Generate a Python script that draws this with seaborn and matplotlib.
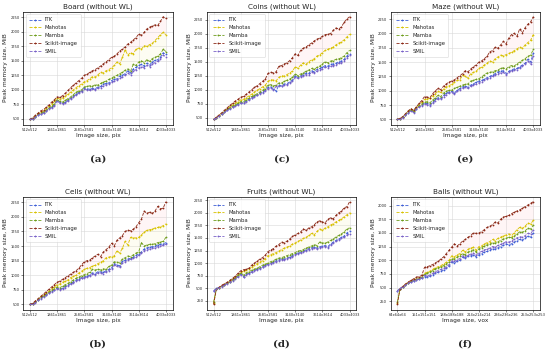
import numpy as np
import pandas as pd
import seaborn as sns
import matplotlib
matplotlib.use('Agg')
import matplotlib.pyplot as plt

libs = ['ITK', 'Mahotas', 'Mamba', 'Scikit-image', 'SMIL']
colors = {'ITK': '#3f5fd6', 'Mahotas': '#d8c200', 'Mamba': '#6f9d1e',
          'Scikit-image': '#8c2a18', 'SMIL': '#7a62c8'}

idx = list(range(51))
ticks_2d = ['512x512', '1861x1861', '2581x2581', '3140x3140', '3614x3614', '4033x4033']
ticks_3d = ['64x64x64', '151x151x151', '188x188x188', '214x214x214', '236x236x236', '253x253x253']

# ---- Board ----
board_itk = [490,500,530,570,590,610,640,680,700,740,
             820,790,770,790,830,860,890,930,960,980,
             1040,1020,1010,1030,1020,1050,1060,1100,1110,1120,
             1160,1180,1190,1240,1250,1280,1330,1290,1360,1390,
             1420,1440,1410,1460,1430,1480,1510,1520,1560,1640,
             1610]
board_mahotas = [490,510,550,590,620,640,680,720,760,800,
                 860,840,860,890,930,960,1000,1040,1070,1100,
                 1140,1160,1190,1230,1220,1260,1300,1290,1330,1350,
                 1380,1420,1480,1450,1560,1690,1600,1640,1620,1700,
                 1720,1700,1760,1750,1780,1800,1850,1900,1950,1990,
                 1950]
board_mamba = [490,505,540,580,600,620,650,690,720,760,
               830,800,790,820,850,880,920,960,980,1000,
               1050,1060,1070,1060,1090,1080,1110,1140,1150,1180,
               1200,1230,1250,1280,1300,1340,1360,1320,1440,1420,
               1480,1500,1470,1520,1490,1540,1560,1580,1620,1700,
               1660]
board_skimage = [490,520,560,600,640,660,700,740,790,830,
                 880,870,900,940,990,1040,1080,1120,1160,1200,
                 1250,1270,1300,1330,1350,1380,1410,1450,1480,1520,
                 1560,1580,1620,1670,1700,1740,1790,1820,1860,1900,
                 1960,1940,1990,2050,2080,2100,2120,2110,2180,2260,
                 2230]
board_smil = [490,500,525,560,585,600,630,670,690,730,
              810,770,760,780,810,850,880,910,940,970,
              1010,1000,990,1010,1000,1030,1040,1070,1090,1100,
              1130,1150,1170,1200,1220,1250,1290,1260,1320,1350,
              1380,1400,1380,1420,1400,1450,1470,1490,1530,1600,
              1570]

# ---- Coins ----
coins_itk = [470,495,535,570,600,640,670,700,720,740,
             770,770,800,830,860,880,910,940,960,990,
             1040,1050,1010,980,1080,1070,1100,1110,1140,1170,
             1250,1220,1250,1270,1300,1290,1340,1320,1360,1380,
             1400,1430,1420,1450,1460,1470,1500,1510,1540,1600,
             1640]
coins_mahotas = [470,505,545,580,620,660,700,730,760,790,
                 820,830,860,890,920,960,990,1020,1050,1080,
                 1150,1180,1170,1160,1220,1250,1240,1270,1300,1330,
                 1410,1380,1440,1480,1450,1500,1530,1550,1600,1620,
                 1660,1700,1720,1740,1760,1800,1830,1850,1890,1940,
                 1990]
coins_mamba = [470,500,540,575,610,650,680,710,730,760,
               790,790,820,850,880,900,930,960,990,1020,
               1080,1090,1070,1080,1120,1120,1150,1170,1190,1220,
               1280,1250,1280,1300,1330,1350,1380,1360,1400,1420,
               1460,1500,1480,1510,1520,1540,1550,1570,1600,1660,
               1700]
coins_skimage = [470,510,550,590,630,680,720,760,800,830,
                 870,880,920,960,1000,1040,1070,1110,1150,1190,
                 1290,1310,1300,1320,1420,1430,1460,1480,1520,1570,
                 1640,1610,1700,1740,1760,1800,1830,1870,1900,1920,
                 1950,1980,1990,2000,2060,2100,2080,2120,2200,2260,
                 2300]
coins_smil = [470,495,530,565,595,630,660,690,710,730,
              760,760,790,820,850,870,900,930,950,980,
              1020,1030,1000,1060,1060,1060,1080,1090,1120,1150,
              1220,1200,1230,1250,1270,1260,1310,1300,1330,1350,
              1370,1400,1390,1420,1430,1440,1470,1480,1510,1570,
              1610]

# ---- Maze ----
maze_itk = [500,505,535,580,620,660,630,690,730,750,
            790,780,760,800,850,880,870,920,960,980,
            990,960,1010,1040,1070,1080,1060,1100,1120,1150,
            1170,1180,1200,1230,1250,1270,1300,1330,1340,1350,
            1300,1340,1370,1380,1390,1420,1450,1480,1550,1500,
            1650]
maze_mahotas = [500,515,545,590,640,680,650,710,760,800,
                850,860,870,910,950,990,970,1030,1070,1090,
                1110,1150,1180,1190,1270,1250,1220,1300,1320,1340,
                1390,1410,1450,1480,1520,1500,1560,1590,1620,1610,
                1630,1650,1670,1700,1730,1760,1740,1800,1840,1880,
                1980]
maze_mamba = [500,510,540,585,630,670,640,700,740,770,
              800,810,790,840,880,920,900,960,990,1010,
              1010,1040,1060,1080,1100,1110,1120,1170,1180,1200,
              1210,1240,1280,1310,1320,1330,1350,1360,1390,1400,
              1380,1420,1440,1430,1470,1500,1530,1560,1600,1620,
              1720]
maze_skimage = [500,520,550,600,650,690,660,720,780,830,
                900,890,880,950,1000,1040,1020,1080,1120,1150,
                1170,1190,1230,1260,1300,1350,1330,1380,1420,1450,
                1500,1520,1560,1600,1680,1700,1760,1740,1800,1860,
                1820,1920,1980,2000,1950,2080,2010,2100,2160,2200,
                2290]
maze_smil = [500,505,530,575,615,650,620,680,720,740,
             770,760,740,790,820,860,850,900,930,960,
             970,940,990,1020,1040,1060,1040,1080,1100,1120,
             1140,1160,1180,1210,1230,1250,1280,1300,1310,1320,
             1280,1320,1350,1360,1370,1400,1430,1460,1520,1460,
             1600]

# ---- Cells ----
cells_itk = [500,505,535,575,610,640,670,700,730,750,
             780,760,780,810,830,860,890,920,940,960,
             970,990,1000,1040,1030,1060,1060,1050,1080,1100,
             1130,1200,1180,1160,1240,1260,1280,1290,1310,1340,
             1370,1400,1450,1470,1480,1490,1500,1520,1530,1540,
             1560]
cells_mahotas = [500,515,550,590,630,660,700,730,770,800,
                 840,850,880,900,920,960,980,1000,1040,1070,
                 1100,1120,1130,1160,1170,1200,1220,1250,1300,1310,
                 1320,1330,1420,1380,1460,1580,1520,1650,1640,1640,
                 1650,1690,1740,1770,1780,1790,1810,1820,1830,1850,
                 1880]
cells_mamba = [500,510,540,580,620,650,680,710,740,770,
               800,790,810,840,860,890,920,950,970,990,
               1010,1030,1050,1100,1090,1100,1090,1110,1100,1150,
               1170,1230,1220,1210,1280,1300,1330,1320,1350,1380,
               1400,1560,1500,1520,1530,1530,1540,1560,1570,1580,
               1650]
cells_skimage = [500,520,560,600,640,680,720,760,800,840,
                 880,900,930,960,990,1020,1050,1080,1120,1180,
                 1230,1250,1260,1300,1330,1360,1320,1400,1440,1480,
                 1550,1500,1600,1640,1680,1750,1770,1760,1790,1830,
                 1900,1960,2100,2060,2080,2060,2100,2180,2140,2150,
                 2260]
cells_smil = [500,505,530,570,600,630,660,690,720,740,
              770,750,770,790,820,850,870,900,920,950,
              960,970,990,1020,1010,1040,1040,1030,1060,1080,
              1110,1180,1150,1140,1210,1230,1260,1270,1290,1310,
              1340,1380,1420,1440,1450,1460,1470,1490,1500,1510,
              1530]

# ---- Fruits ----
fruits_itk = [450,500,515,540,570,600,630,660,700,740,
              780,730,780,800,830,860,880,900,930,960,
              980,1000,1020,1050,1070,1090,1080,1100,1120,1150,
              1180,1210,1220,1240,1270,1290,1310,1320,1300,1330,
              1340,1350,1330,1380,1420,1450,1480,1510,1540,1600,
              1640]
fruits_mahotas = [200,485,515,550,580,610,640,680,720,770,
                  820,840,860,890,920,960,990,1020,1050,1090,
                  1150,1170,1190,1210,1240,1270,1300,1320,1340,1380,
                  1400,1430,1460,1490,1510,1550,1590,1560,1630,1680,
                  1650,1700,1720,1760,1780,1820,1850,1880,1920,1960,
                  2000]
fruits_mamba = [230,480,510,545,575,600,630,670,710,760,
                800,760,810,830,860,880,900,930,960,980,
                1000,1030,1050,1080,1100,1110,1130,1150,1170,1190,
                1210,1240,1250,1270,1300,1320,1340,1370,1350,1420,
                1400,1400,1420,1450,1480,1520,1550,1580,1620,1680,
                1700]
fruits_skimage = [180,480,520,560,590,620,660,700,740,800,
                  850,870,880,900,960,1000,1040,1080,1110,1160,
                  1230,1260,1290,1340,1370,1420,1400,1440,1480,1530,
                  1560,1590,1620,1680,1650,1700,1720,1760,1820,1840,
                  1820,1800,1870,1900,1880,1950,2000,2030,2100,2120,
                  2220]
fruits_smil = [440,495,510,535,565,595,620,650,690,730,
               770,720,770,790,820,850,870,890,920,950,
               970,990,1010,1030,1050,1070,1060,1090,1110,1130,
               1160,1190,1200,1220,1250,1270,1290,1300,1280,1310,
               1320,1330,1310,1360,1400,1430,1460,1490,1510,1560,
               1580]

# ---- Balls ----
balls_itk = [440,480,505,540,575,600,620,640,650,670,
             700,690,710,730,760,780,800,820,850,900,
             960,950,980,1000,1050,1040,1070,1080,1100,1060,
             1100,1120,1150,1160,1180,1210,1200,1230,1250,1270,
             1300,1280,1300,1330,1360,1380,1370,1400,1440,1420,
             1500]
balls_mahotas = [210,475,515,555,590,620,640,660,680,700,
                 760,780,800,830,860,880,900,930,960,1000,
                 1080,1060,1100,1120,1180,1150,1200,1220,1240,1180,
                 1250,1260,1300,1320,1340,1380,1360,1400,1420,1450,
                 1460,1480,1450,1500,1560,1600,1580,1620,1680,1660,
                 1730]
balls_mamba = [230,470,510,550,585,615,630,650,670,690,
               740,760,780,810,840,860,880,900,930,970,
               1030,1020,1060,1080,1120,1100,1150,1170,1190,1150,
               1210,1230,1260,1280,1290,1320,1310,1340,1360,1390,
               1400,1420,1410,1440,1480,1520,1510,1540,1580,1570,
               1640]
balls_skimage = [190,480,520,560,600,630,660,690,700,720,
                 870,880,900,920,950,980,1020,1060,1120,1180,
                 1240,1300,1260,1300,1350,1380,1420,1450,1500,1490,
                 1500,1520,1560,1600,1620,1650,1700,1680,1750,1790,
                 1800,1820,1850,1880,1900,1920,1950,1980,2010,2040,
                 2070]
balls_smil = [430,485,510,545,580,605,625,645,660,680,
              720,710,730,760,790,810,830,850,880,920,
              990,980,1010,1030,1080,1060,1100,1110,1130,1090,
              1140,1160,1190,1200,1220,1250,1240,1270,1290,1310,
              1340,1330,1350,1380,1410,1430,1420,1450,1490,1480,
              1560]

panels = [
    ('Board (without WL)', '(a)', ticks_2d, 'Image size, pix',
     [board_itk, board_mahotas, board_mamba, board_skimage, board_smil]),
    ('Coins (without WL)', '(c)', ticks_2d, 'Image size, pix',
     [coins_itk, coins_mahotas, coins_mamba, coins_skimage, coins_smil]),
    ('Maze (without WL)', '(e)', ticks_2d, 'Image size, pix',
     [maze_itk, maze_mahotas, maze_mamba, maze_skimage, maze_smil]),
    ('Cells (without WL)', '(b)', ticks_2d, 'Image size, pix',
     [cells_itk, cells_mahotas, cells_mamba, cells_skimage, cells_smil]),
    ('Fruits (without WL)', '(d)', ticks_2d, 'Image size, pix',
     [fruits_itk, fruits_mahotas, fruits_mamba, fruits_skimage, fruits_smil]),
    ('Balls (without WL)', '(f)', ticks_3d, 'Image size, vox',
     [balls_itk, balls_mahotas, balls_mamba, balls_skimage, balls_smil]),
]

sns.set_style('whitegrid', {'axes.edgecolor': 'black', 'grid.color': '#d8d8d8',
                            'xtick.bottom': True, 'ytick.left': True})
plt.rcParams['font.family'] = ['DejaVu Sans']

fig = plt.figure(figsize=(5.5, 3.51), dpi=100)
lefts = [0.042, 0.376, 0.710]
bottoms = [0.645, 0.118]
w, h = 0.272, 0.322

for k, (title, tag, xt, xl, series) in enumerate(panels):
    row, col = k // 3, k % 3
    ax = fig.add_axes([lefts[col], bottoms[row], w, h])
    df = pd.DataFrame({'idx': idx})
    for name, vals in zip(libs, series):
        df[name] = vals
    long = df.melt(id_vars='idx', var_name='lib', value_name='mem')
    # faint bands between the upper curves
    ax.fill_between(df['idx'], df['Mahotas'], df['Scikit-image'], color='#ffb3bd', alpha=0.13, lw=0)
    ax.fill_between(df['idx'], df['Mamba'], df['Mahotas'], color='#f6ee9a', alpha=0.12, lw=0)
    for name in libs:
        sns.lineplot(data=long[long['lib'] == name], x='idx', y='mem', ax=ax,
                     color=colors[name], label=name, linestyle='--', linewidth=0.6,
                     marker='o', markersize=1.3, markeredgewidth=0)
    lo, hi = ax.get_ylim()
    ax.set_xticks(idx[::10])
    ax.set_xticklabels(xt)
    ax.tick_params(labelsize=2.6, length=1.5, width=0.4, pad=1)
    ax.set_yticks([t for t in range(250, 2500, 250) if lo <= t <= hi])
    ax.set_ylim(lo, hi)
    ax.set_title(title, fontsize=5.2, pad=2)
    ax.set_xlabel(xl, fontsize=4.2, labelpad=1)
    ax.set_ylabel('Peak memory size, MiB', fontsize=4.2, labelpad=1.5)
    for s in ax.spines.values():
        s.set_linewidth(0.5)
    ax.grid(linewidth=0.4)
    leg = ax.legend(loc='upper left', fontsize=3.8, frameon=True, handlelength=2.2,
                    borderpad=0.6, labelspacing=0.55, fancybox=True)
    leg.get_frame().set_linewidth(0.4)
    fig.text(lefts[col] + w / 2, bottoms[row] - 0.098, tag, ha='center', va='center',
             fontsize=7.5, fontweight='bold', family='DejaVu Serif')

fig.savefig('out.png', dpi=100)
